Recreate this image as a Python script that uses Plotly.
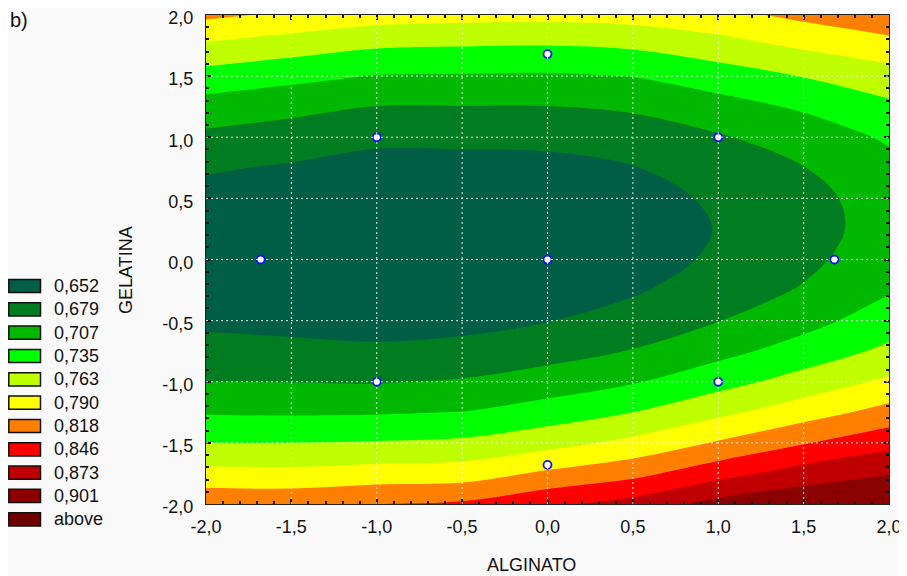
import plotly.graph_objects as go

# ---------------- data ----------------
alginato = [-2.0, -1.5, -1.0, -0.5, 0.0, 0.5, 1.0, 1.5, 2.0]
gelatina = [-2.0, -1.75, -1.5, -1.25, -1.0, -0.75, -0.5, -0.25, 0.0,
            0.25, 0.5, 0.75, 1.0, 1.25, 1.5, 1.75, 2.0]

# response, one column per ALGINATO value (bottom -> top in GELATINA)
z_alg_m20 = [0.812, 0.771, 0.735, 0.705, 0.680, 0.661, 0.647, 0.638, 0.634, 0.636, 0.643, 0.655, 0.673, 0.696, 0.724, 0.758, 0.796]
z_alg_m15 = [0.811, 0.770, 0.735, 0.704, 0.679, 0.659, 0.644, 0.635, 0.630, 0.631, 0.638, 0.649, 0.666, 0.688, 0.715, 0.748, 0.785]
z_alg_m10 = [0.819, 0.774, 0.737, 0.705, 0.678, 0.657, 0.641, 0.631, 0.626, 0.626, 0.631, 0.642, 0.658, 0.679, 0.706, 0.738, 0.775]
z_alg_m05 = [0.822, 0.777, 0.740, 0.708, 0.682, 0.660, 0.644, 0.633, 0.628, 0.628, 0.632, 0.643, 0.658, 0.679, 0.705, 0.736, 0.772]
z_alg_00 = [0.840, 0.795, 0.753, 0.720, 0.692, 0.669, 0.651, 0.639, 0.633, 0.631, 0.635, 0.644, 0.659, 0.679, 0.704, 0.735, 0.771]
z_alg_05 = [0.856, 0.810, 0.770, 0.735, 0.705, 0.681, 0.662, 0.649, 0.641, 0.639, 0.642, 0.651, 0.664, 0.684, 0.708, 0.739, 0.774]
z_alg_10 = [0.883, 0.835, 0.793, 0.756, 0.725, 0.699, 0.679, 0.665, 0.656, 0.653, 0.656, 0.664, 0.677, 0.697, 0.721, 0.752, 0.782]
z_alg_15 = [0.895, 0.858, 0.816, 0.778, 0.746, 0.719, 0.698, 0.682, 0.673, 0.669, 0.671, 0.679, 0.692, 0.711, 0.736, 0.767, 0.797]
z_alg_20 = [0.898, 0.872, 0.837, 0.800, 0.768, 0.741, 0.721, 0.705, 0.696, 0.691, 0.692, 0.699, 0.711, 0.729, 0.752, 0.778, 0.815]

# experimental design points
design_alg = [-1.0, -1.0, 1.0, 1.0, 0.0, -1.68, 1.68, 0.0, 0.0]
design_gel = [-1.0, 1.0, -1.0, 1.0, 0.0, 0.0, 0.0, -1.68, 1.68]

tick_vals = [-2.0, -1.5, -1.0, -0.5, 0.0, 0.5, 1.0, 1.5, 2.0]
tick_text = ["-2,0", "-1,5", "-1,0", "-0,5", "0,0", "0,5", "1,0", "1,5", "2,0"]

level_values = [0.652, 0.679, 0.707, 0.735, 0.763, 0.790, 0.818, 0.846, 0.873, 0.901]
legend_labels = ["0,652", "0,679", "0,707", "0,735", "0,763", "0,790",
                 "0,818", "0,846", "0,873", "0,901", "above"]
band_colors = ["#005e45", "#007d20", "#00b800", "#00ff00", "#c0ff00", "#ffff00",
               "#ff8000", "#ff0000", "#c00000", "#8b0000", "#700000"]

# ---------------- figure ----------------
columns = [z_alg_m20, z_alg_m15, z_alg_m10, z_alg_m05, z_alg_00,
           z_alg_05, z_alg_10, z_alg_15, z_alg_20]
z_rows = [list(r) for r in zip(*columns)]

# the page body adds an 8 px margin, so the figure is drawn 8 px smaller/shifted
OFF = 8
W, H = 907 - OFF, 576 - OFF
# plot area in figure pixels (window pixels minus the body margin)
L, R, T, B = 206 - OFF, 889 - OFF, 15 - OFF, 504 - OFF


def px2x(px):
    return (px - OFF - L) / (R - L)


def px2y(py):
    return (B - (py - OFF)) / (B - T)


n_levels = len(level_values)
step = (level_values[-1] - level_values[0]) / (n_levels - 1)
cscale = [[k / (len(band_colors) - 1), c] for k, c in enumerate(band_colors)]

fig = go.Figure()
fig.add_trace(go.Contour(
    x=alginato, y=gelatina, z=z_rows,
    autocontour=False,
    contours=dict(start=level_values[0], end=level_values[-1] + step * 0.02,
                  size=step, coloring="fill", showlines=False),
    colorscale=cscale, showscale=False,
    line=dict(width=0, smoothing=1),
    hoverinfo="skip",
))
fig.add_trace(go.Scatter(
    x=design_alg, y=design_gel, mode="markers",
    marker=dict(symbol="circle", size=8, color="white",
                line=dict(color="#1010ff", width=1.8)),
    hoverinfo="skip", showlegend=False,
))

shapes = []
grid_style = dict(color="rgba(240,240,240,0.95)", width=1, dash="2px,3px")
for v in tick_vals[1:-1]:
    shapes.append(dict(type="line", xref="x", yref="paper", x0=v, x1=v, y0=0, y1=1,
                       line=grid_style, layer="above"))
    shapes.append(dict(type="line", xref="paper", yref="y", x0=0, x1=1, y0=v, y1=v,
                       line=grid_style, layer="above"))

annotations = []
row_gap = 23.33
for i, (lab, col) in enumerate(zip(legend_labels, band_colors)):
    cy = 286 + i * row_gap
    shapes.append(dict(type="rect", xref="paper", yref="paper",
                       x0=px2x(8.8), x1=px2x(40.5), y0=px2y(cy + 6.6), y1=px2y(cy - 6.6),
                       fillcolor=col, line=dict(color="#111111", width=1.5)))
    annotations.append(dict(text=lab, xref="paper", yref="paper",
                            x=px2x(52), y=px2y(cy), xanchor="left", yanchor="middle",
                            showarrow=False,
                            font=dict(family="Liberation Sans", size=18, color="#111111")))

annotations.append(dict(text="b)", xref="paper", yref="paper", x=px2x(8), y=px2y(20),
                        xanchor="left", yanchor="middle", showarrow=False,
                        font=dict(family="Liberation Sans", size=20, color="#111111")))
annotations.append(dict(text="ALGINATO", xref="paper", yref="paper", x=px2x(531), y=px2y(565),
                        xanchor="center", yanchor="middle", showarrow=False,
                        font=dict(family="Liberation Sans", size=18, color="#111111")))
annotations.append(dict(text="GELATINA", xref="paper", yref="paper", x=px2x(126), y=px2y(270),
                        xanchor="center", yanchor="middle", showarrow=False, textangle=-90,
                        font=dict(family="Liberation Sans", size=18, color="#111111")))

axis_common = dict(
    tickmode="array", tickvals=tick_vals, ticktext=tick_text,
    range=[-2, 2], showgrid=False, zeroline=False,
    showline=True, linecolor="#222222", linewidth=1, mirror="allticks",
    ticks="inside", ticklen=5, tickcolor="#111111", tickwidth=1.5,
    minor=dict(dtick=0.1, ticks="inside", ticklen=3, tickcolor="#111111", tickwidth=1.5, showgrid=False),
    tickfont=dict(family="Liberation Sans", size=18, color="#111111"),
    ticklabeloverflow="allow",
)

fig.update_layout(
    width=W, height=H, autosize=False,
    margin=dict(l=L, r=W - R, t=T, b=H - B, pad=0, autoexpand=False),
    paper_bgcolor="#fafafa", plot_bgcolor="#fafafa",
    xaxis=dict(**axis_common, ticklabelstandoff=6),
    yaxis=dict(**axis_common, ticklabelstandoff=8, ticklabelshift=3),
    shapes=shapes, annotations=annotations,
    showlegend=False,
)

fig.write_html("out.html")
